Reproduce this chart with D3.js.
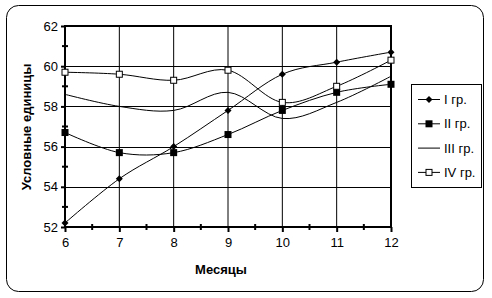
<!DOCTYPE html>
<html lang="ru">
<head>
    <meta charset="UTF-8">
    <script src="https://cdnjs.cloudflare.com/ajax/libs/d3/7.8.5/d3.min.js"></script>
    <title>Условные единицы по месяцам</title>
    <style>
        body { margin: 0; background: #fff; }
        text { font-family: Arial, "Liberation Sans", sans-serif; fill: #000; }
    </style>
</head>
<body>
<div class="fig"></div>
<script>
    // data
    const months = [6, 7, 8, 9, 10, 11, 12];
    const gr1 = [52.2, 54.4, 56.0, 57.8, 59.6, 60.2, 60.7];
    const gr2 = [56.7, 55.7, 55.7, 56.6, 57.8, 58.7, 59.1];
    const gr3 = [58.6, 58.0, 57.8, 58.7, 57.4, 58.2, 59.5];
    const gr4 = [59.7, 59.6, 59.3, 59.8, 58.2, 59.0, 60.3];
    const seriesNames = ["I гр.", "II гр.", "III гр.", "IV гр."];
    const yTicks = [52, 54, 56, 58, 60, 62];

    const series = [
        { name: seriesNames[0], values: gr1, marker: "diamond" },
        { name: seriesNames[1], values: gr2, marker: "filled" },
        { name: seriesNames[2], values: gr3, marker: "none" },
        { name: seriesNames[3], values: gr4, marker: "open" }
    ];

    const width = 492, height = 298;
    const svg = d3.select(".fig").append("svg")
        .attr("width", width)
        .attr("height", height);

    // outer chart frame
    svg.append("rect")
        .attr("x", 6.5).attr("y", 5.5)
        .attr("width", 477).attr("height", 286)
        .attr("rx", 12).attr("ry", 12)
        .attr("fill", "none").attr("stroke", "#000").attr("stroke-width", 1);

    const plot = { left: 65, right: 391, top: 26, bottom: 227 };

    const x = d3.scaleLinear().domain([6, 12]).range([plot.left, plot.right]);
    const y = d3.scaleLinear().domain([52, 62]).range([plot.bottom, plot.top]);

    // gridlines
    svg.append("g").selectAll("line")
        .data(months.slice(1, -1))
        .enter().append("line")
        .attr("x1", d => x(d)).attr("x2", d => x(d))
        .attr("y1", plot.top).attr("y2", plot.bottom)
        .attr("stroke", "#000").attr("stroke-width", 1);
    svg.append("g").selectAll("line")
        .data(yTicks.slice(1, -1))
        .enter().append("line")
        .attr("x1", plot.left).attr("x2", plot.right)
        .attr("y1", d => Math.round(y(d)) + 0.5).attr("y2", d => Math.round(y(d)) + 0.5)
        .attr("stroke", "#000").attr("stroke-width", 1);

    // plot border
    svg.append("rect")
        .attr("x", plot.left).attr("y", plot.top)
        .attr("width", plot.right - plot.left).attr("height", plot.bottom - plot.top)
        .attr("fill", "none").attr("stroke", "#000").attr("stroke-width", 2);

    // axes
    const xAxis = d3.axisBottom(x).tickValues(months).tickSize(5).tickPadding(6).tickFormat(d3.format("d"));
    const gx = svg.append("g").attr("transform", `translate(0,${plot.bottom})`).call(xAxis);
    const yAxis = d3.axisLeft(y).tickValues(yTicks).tickSize(4).tickPadding(3).tickFormat(d3.format("d"));
    const gy = svg.append("g").attr("transform", `translate(${plot.left},0)`).call(yAxis);
    [gx, gy].forEach(g => {
        g.select(".domain").remove();
        g.selectAll(".tick line").attr("stroke", "#000").attr("stroke-width", 2);
        g.selectAll(".tick text").attr("font-size", 13).attr("fill", "#000")
            .style("font-family", "Arial, 'Liberation Sans', sans-serif");
    });

    // minor ticks
    const xMinor = months.slice(0, -1).map(d => d + 0.5);
    svg.append("g").selectAll("line").data(xMinor).enter().append("line")
        .attr("x1", d => x(d)).attr("x2", d => x(d))
        .attr("y1", plot.bottom - 3).attr("y2", plot.bottom + 3)
        .attr("stroke", "#000").attr("stroke-width", 2);
    const yMinor = yTicks.slice(0, -1).map(d => d + 1);
    svg.append("g").selectAll("line").data(yMinor).enter().append("line")
        .attr("x1", plot.left - 3).attr("x2", plot.left + 3)
        .attr("y1", d => y(d)).attr("y2", d => y(d))
        .attr("stroke", "#000").attr("stroke-width", 2);

    // axis titles
    svg.append("text")
        .attr("x", 221).attr("y", 274)
        .attr("text-anchor", "middle")
        .attr("font-size", 13).attr("font-weight", "bold")
        .text("Месяцы");
    svg.append("text")
        .attr("transform", `translate(31,127) rotate(-90)`)
        .attr("text-anchor", "middle")
        .attr("font-size", 13).attr("font-weight", "bold")
        .text("Условные единицы");

    // lines
    const line = d3.line()
        .x((d, i) => x(months[i]))
        .y(d => y(d))
        .curve(d3.curveCardinal.tension(0));

    svg.append("g").selectAll("path")
        .data(series)
        .enter().append("path")
        .attr("d", d => line(d.values))
        .attr("fill", "none").attr("stroke", "#000").attr("stroke-width", 1);

    function drawMarker(g, type, cx, cy) {
        if (type === "diamond") {
            g.append("path")
                .attr("d", `M${cx},${cy - 3.5}L${cx + 3.5},${cy}L${cx},${cy + 3.5}L${cx - 3.5},${cy}Z`)
                .attr("fill", "#000");
        } else if (type === "filled") {
            g.append("rect")
                .attr("x", cx - 3.5).attr("y", cy - 3.5).attr("width", 7).attr("height", 7)
                .attr("fill", "#000");
        } else if (type === "open") {
            g.append("rect")
                .attr("x", cx - 3).attr("y", cy - 3).attr("width", 6).attr("height", 6)
                .attr("fill", "#fff").attr("stroke", "#000").attr("stroke-width", 1);
        }
    }

    const markers = svg.append("g");
    series.forEach(s => {
        s.values.forEach((v, i) => drawMarker(markers, s.marker, x(months[i]), y(v)));
    });

    // legend
    const legend = svg.append("g");
    legend.append("rect")
        .attr("x", 411.5).attr("y", 84.5)
        .attr("width", 70).attr("height", 103)
        .attr("fill", "#fff").attr("stroke", "#000").attr("stroke-width", 1);
    series.forEach((s, i) => {
        const ly = 99.5 + i * 24.3;
        legend.append("line")
            .attr("x1", 418).attr("x2", 440)
            .attr("y1", ly).attr("y2", ly)
            .attr("stroke", "#000").attr("stroke-width", 1);
        drawMarker(legend, s.marker, 429, ly);
        legend.append("text")
            .attr("x", 444).attr("y", ly + 4.5)
            .attr("font-size", 13)
            .text(s.name);
    });
</script>
</body>
</html>
